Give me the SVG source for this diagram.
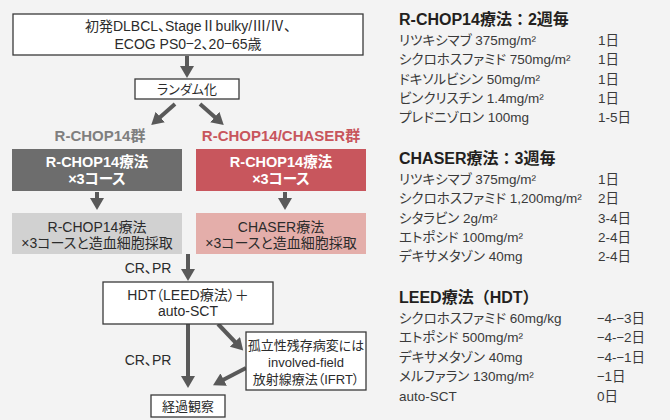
<svg xmlns="http://www.w3.org/2000/svg" width="670" height="420" viewBox="0 0 670 420">
<style>
text{font-family:"Liberation Sans","Noto Sans CJK JP",sans-serif;fill:#2b2b2b;font-feature-settings:"palt";}
.cj{font-family:"Noto Sans CJK JP",sans-serif;font-feature-settings:normal;}
.box{fill:#fff;stroke:#3a3a3a;stroke-width:1.3;}
.t{font-size:14px;text-anchor:middle;}
.s{font-size:13px;text-anchor:middle;}
.tb{font-size:14.5px;text-anchor:middle;font-weight:bold;}
.w{fill:#fff;}
.arr{stroke:#595959;stroke-width:4;fill:none;marker-end:url(#ah);}
.h{font-size:16px;font-weight:bold;fill:#231f20;font-feature-settings:normal;}
.r{font-size:13.5px;fill:#3a3a3a;}
</style>
<defs>
<marker id="ah" markerUnits="userSpaceOnUse" markerWidth="13" markerHeight="14" refX="3" refY="7" orient="auto" viewBox="0 0 13 14">
<path d="M0,0 L12,7 L0,14 z" fill="#595959"/>
</marker>
</defs>
<rect width="670" height="420" fill="#f3f3f3"/>

<g id="connectors">
<line class="arr" x1="187" y1="56" x2="187" y2="69"/>
<line class="arr" x1="175" y1="104" x2="158" y2="119"/>
<line class="arr" x1="200" y1="104" x2="217" y2="119"/>
<line class="arr" x1="97" y1="192" x2="97" y2="201"/>
<line class="arr" x1="285" y1="192" x2="285" y2="201"/>
<line class="arr" x1="188" y1="254" x2="188" y2="272"/>
<line class="arr" x1="188" y1="324" x2="188" y2="379"/>
<line class="arr" x1="218" y1="324" x2="237" y2="344"/>
<line class="arr" x1="246" y1="368" x2="221" y2="381"/>
<text x="148" y="273" class="t">CR、PR</text>
<text x="148" y="365" class="t">CR、PR</text>
</g>

<g id="n-eligibility">
<rect class="box" x="13" y="14" width="350" height="41"/>
<text x="188" y="31" class="t">初発DLBCL、StageⅡbulky/Ⅲ/Ⅳ、</text>
<text x="188" y="49" class="t">ECOG PS0<tspan class="cj">−</tspan>2、20<tspan class="cj">−</tspan>65歳</text>
</g>

<g id="n-random">
<rect class="box" x="135" y="79" width="104" height="20"/>
<text x="187" y="94" class="s">ランダム化</text>
</g>

<g id="n-label-left">
<text x="100" y="141" style="font-size:15px;font-weight:bold;fill:#7f7f7f;text-anchor:middle">R-CHOP14群</text>
</g>
<g id="n-label-right">
<text x="281" y="141" style="font-size:15px;font-weight:bold;fill:#c8565d;text-anchor:middle">R-CHOP14/CHASER群</text>
</g>

<g id="n-rchop1">
<rect x="12" y="149" width="170" height="42" fill="#6d6d6d"/>
<text x="97" y="167" class="tb w">R-CHOP14療法</text>
<text x="97" y="184" class="tb w">×3コース</text>
</g>
<g id="n-rchop2">
<rect x="196" y="149" width="170" height="42" fill="#c8565d"/>
<text x="281" y="167" class="tb w">R-CHOP14療法</text>
<text x="281" y="184" class="tb w">×3コース</text>
</g>

<g id="n-rchop3">
<rect x="12" y="213" width="170" height="41" fill="#d1d1d1"/>
<text x="97" y="232" class="t">R-CHOP14療法</text>
<text x="97" y="248" class="t">×3コースと造血細胞採取</text>
</g>
<g id="n-chaser">
<rect x="196" y="213" width="170" height="41" fill="#e4aeaa"/>
<text x="281" y="232" class="t">CHASER療法</text>
<text x="281" y="248" class="t">×3コースと造血細胞採取</text>
</g>

<g id="n-hdt">
<rect class="box" x="103" y="282" width="170" height="42"/>
<text x="188" y="300" class="t">HDT（LEED療法）＋</text>
<text x="188" y="316" class="t">auto-SCT</text>
</g>

<g id="n-ifrt">
<rect class="box" x="246" y="332" width="120" height="58"/>
<text x="306" y="350" class="s">孤立性残存病変には</text>
<text x="306" y="367" class="s">involved-field</text>
<text x="306" y="384" class="s">放射線療法（IFRT）</text>
</g>

<g id="n-follow">
<rect class="box" x="151" y="395" width="74" height="22"/>
<text x="188" y="411" class="s">経過観察</text>
</g>

<g id="table-rchop">
<text x="399" y="25" class="h">R-CHOP14療法：2週毎</text>
<text x="399" y="44.5" class="r">リツキシマブ 375mg/m²</text><text x="598" y="44.5" class="r">1日</text>
<text x="399" y="64" class="r">シクロホスファミド 750mg/m²</text><text x="598" y="64" class="r">1日</text>
<text x="399" y="83.5" class="r">ドキソルビシン 50mg/m²</text><text x="598" y="83.5" class="r">1日</text>
<text x="399" y="103" class="r">ビンクリスチン 1.4mg/m²</text><text x="598" y="103" class="r">1日</text>
<text x="399" y="122" class="r">プレドニゾロン 100mg</text><text x="598" y="122" class="r">1-5日</text>
</g>

<g id="table-chaser">
<text x="399" y="164" class="h">CHASER療法：3週毎</text>
<text x="399" y="183.5" class="r">リツキシマブ 375mg/m²</text><text x="598" y="183.5" class="r">1日</text>
<text x="399" y="203" class="r">シクロホスファミド 1,200mg/m²</text><text x="598" y="203" class="r">2日</text>
<text x="399" y="222.5" class="r">シタラビン 2g/m²</text><text x="598" y="222.5" class="r">3-4日</text>
<text x="399" y="242" class="r">エトポシド 100mg/m²</text><text x="598" y="242" class="r">2-4日</text>
<text x="399" y="261" class="r">デキサメタゾン 40mg</text><text x="598" y="261" class="r">2-4日</text>
</g>

<g id="table-leed">
<text x="399" y="303" class="h">LEED療法（HDT）</text>
<text x="399" y="322.5" class="r">シクロホスファミド 60mg/kg</text><text x="597" y="322.5" class="r"><tspan class="cj">−</tspan>4-<tspan class="cj">−</tspan>3日</text>
<text x="399" y="342" class="r">エトポシド 500mg/m²</text><text x="597" y="342" class="r"><tspan class="cj">−</tspan>4-<tspan class="cj">−</tspan>2日</text>
<text x="399" y="361.5" class="r">デキサメタゾン 40mg</text><text x="597" y="361.5" class="r"><tspan class="cj">−</tspan>4-<tspan class="cj">−</tspan>1日</text>
<text x="399" y="381" class="r">メルファラン 130mg/m²</text><text x="597" y="381" class="r"><tspan class="cj">−</tspan>1日</text>
<text x="399" y="400.5" class="r">auto-SCT</text><text x="597" y="400.5" class="r">0日</text>
</g>
</svg>
